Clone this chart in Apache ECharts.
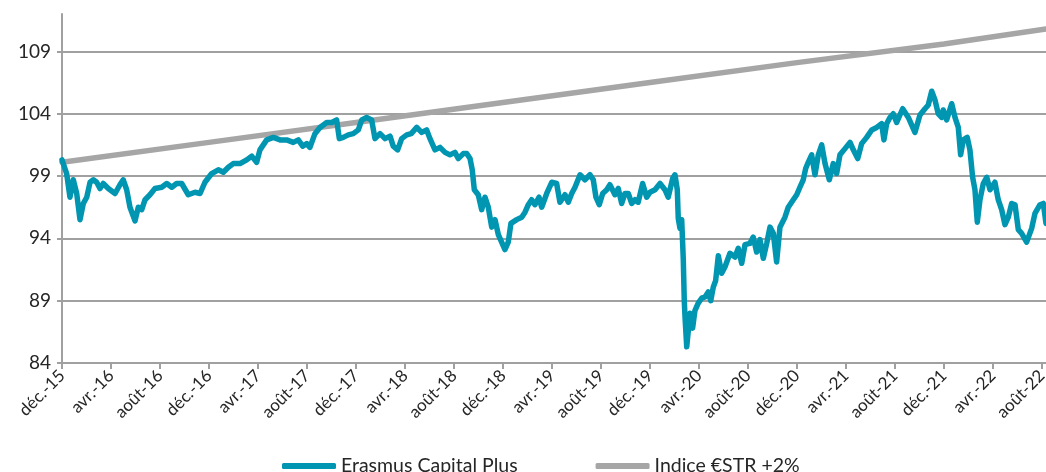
<!DOCTYPE html>
<html>
<head>
<meta charset="utf-8">
<script src="https://cdn.jsdelivr.net/npm/echarts@6/dist/echarts.min.js"></script>
<style>
  html, body { margin: 0; padding: 0; background: #fff; }
  #chart { width: 1046px; height: 472px; }
</style>
</head>
<body>
<div id="chart"></div>
<script>
// mois écoulés depuis déc.-15
const xLabels = ["déc.-15", "avr.-16", "août-16", "déc.-16", "avr.-17", "août-17", "déc.-17",
  "avr.-18", "août-18", "déc.-18", "avr.-19", "août-19", "déc.-19", "avr.-20", "août-20",
  "déc.-20", "avr.-21", "août-21", "déc.-21", "avr.-22", "août-22"];

const months = [0, 0.38, 0.65, 0.92, 1.2, 1.47, 1.74, 2.02, 2.29, 2.56, 2.83, 3.1, 3.37, 3.78,
  4.33, 4.73, 5.0, 5.28, 5.55, 5.96, 6.23, 6.51, 6.78, 7.18, 7.59, 8.14, 8.55, 8.96, 9.36, 9.77,
  10.31, 10.86, 11.27, 11.67, 12.22, 12.76, 13.17, 13.58, 13.98, 14.53, 15.08, 15.49, 15.89,
  16.16, 16.71, 17.25, 17.8, 18.34, 18.88, 19.29, 19.65, 19.98, 20.24, 20.65, 21.06, 21.61,
  22.02, 22.42, 22.64, 22.96, 23.37, 23.78, 24.19, 24.47, 24.87, 25.28, 25.55, 25.96, 26.37,
  26.78, 27.04, 27.4, 27.73, 28.14, 28.51, 28.96, 29.36, 29.77, 30.04, 30.45, 30.86, 31.27,
  31.67, 32.08, 32.35, 32.76, 33.04, 33.31, 33.49, 33.66, 33.98, 34.26, 34.53, 34.8, 35.08,
  35.35, 35.62, 35.89, 36.16, 36.43, 36.65, 37.12, 37.53, 37.8, 38.07, 38.34, 38.61, 38.94,
  39.16, 39.57, 39.98, 40.38, 40.65, 41.06, 41.33, 41.61, 41.88, 42.29, 42.69, 43.1, 43.37,
  43.59, 43.86, 44.14, 44.47, 44.73, 45.14, 45.41, 45.69, 45.96, 46.23, 46.51, 46.78, 47.04,
  47.4, 47.73, 48.0, 48.41, 48.82, 49.22, 49.49, 49.85, 50.04, 50.23, 50.31, 50.45, 50.59,
  50.72, 50.8, 50.86, 51.0, 51.13, 51.27, 51.48, 51.67, 51.94, 52.22, 52.49, 52.76, 52.96,
  53.17, 53.36, 53.58, 53.85, 54.12, 54.53, 54.94, 55.21, 55.49, 55.76, 56.16, 56.43, 56.71,
  56.98, 57.25, 57.53, 57.8, 58.07, 58.34, 58.61, 59.02, 59.29, 59.7, 59.98, 60.24, 60.51,
  60.71, 60.92, 61.2, 61.47, 61.74, 62.02, 62.29, 62.64, 62.96, 63.24, 63.51, 63.92, 64.33,
  64.6, 64.96, 65.28, 65.69, 66.1, 66.51, 66.91, 67.1, 67.32, 67.59, 67.86, 68.14, 68.63,
  69.09, 69.63, 70.04, 70.45, 70.72, 71.0, 71.27, 71.53, 71.81, 71.94, 72.22, 72.63, 72.9,
  73.17, 73.36, 73.58, 73.9, 74.12, 74.34, 74.53, 74.72, 74.94, 75.21, 75.49, 75.76, 76.16,
  76.43, 76.71, 76.98, 77.25, 77.53, 77.8, 78.07, 78.34, 78.75, 79.16, 79.43, 79.84, 80.11, 80.33];

const erasmus = [100.3, 99.2, 97.3, 98.7, 97.6, 95.5, 96.8, 97.3, 98.5, 98.7, 98.5, 98.0, 98.4, 98.0,
  97.6, 98.3, 98.7, 97.9, 96.5, 95.4, 96.5, 96.3, 97.1, 97.5, 98.0, 98.1, 98.4, 98.1, 98.4, 98.4,
  97.5, 97.7, 97.6, 98.5, 99.2, 99.5, 99.3, 99.7, 100.0, 100.0, 100.3, 100.6, 100.1,
  101.1, 101.9, 102.1, 101.9, 101.9, 101.7, 101.9, 101.4, 101.6, 101.3, 102.4, 102.9, 103.3,
  103.3, 103.5, 102.0, 102.1, 102.3, 102.4, 102.7, 103.5, 103.7, 103.5, 102.0, 102.4, 102.0,
  102.2, 101.4, 101.1, 102.0, 102.3, 102.4, 102.9, 102.5, 102.7, 102.0, 101.1, 101.3, 100.9,
  100.7, 100.9, 100.4, 100.8, 100.8, 100.4, 99.5, 97.9, 97.5, 96.3, 97.3, 96.5, 94.9,
  95.5, 94.3, 93.7, 93.1, 93.7, 95.2, 95.5, 95.7, 96.1, 96.7, 97.1, 96.7, 97.3,
  96.5, 97.6, 98.5, 98.4, 96.9, 97.5, 96.9, 97.6, 98.1, 99.1, 98.7, 99.1, 98.7,
  97.3, 96.7, 97.6, 97.9, 98.3, 97.5, 98.0, 96.8, 97.6, 97.6, 96.8, 97.1, 96.9,
  98.4, 97.3, 97.7, 97.9, 98.4, 97.9, 97.3, 98.8, 99.1, 97.9, 95.6, 94.8, 95.5,
  92.3, 89.0, 87.7, 85.3, 85.4, 88.0, 86.8, 88.2, 88.8, 89.2, 89.3, 89.7, 89.0,
  90.1, 90.6, 92.6, 91.2, 91.7, 92.8, 92.5, 93.2, 92.0, 93.5, 93.6, 94.1, 92.9,
  93.9, 92.4, 93.6, 94.9, 94.4, 92.1, 94.9, 95.7, 96.5, 97.1, 97.5, 98.1, 98.7,
  99.6, 100.1, 100.7, 99.1, 100.7, 101.5, 100.0, 98.7, 100.0, 99.2, 100.7, 101.2, 101.7,
  101.1, 100.4, 101.6, 102.1, 102.7, 102.9, 103.2, 101.9, 103.2, 103.7, 104.0, 103.3, 104.4,
  103.7, 102.5, 103.9, 104.4, 104.7, 105.8, 105.1, 104.0, 103.7, 104.3, 103.5, 104.8, 103.7,
  102.9, 100.7, 101.9, 102.1, 101.1, 98.9, 97.9, 95.3, 97.1, 98.4, 98.9, 97.9, 98.5,
  97.1, 96.3, 95.1, 95.7, 96.8, 96.7, 94.7, 94.4, 93.7, 94.8, 96.0, 96.7, 96.8, 95.2];

const indexMonths = [0, 12, 24, 36, 48, 60, 72, 80.33];
const indexValues = [100.1, 101.7, 103.3, 104.9, 106.5, 108.1, 109.6, 110.8];

const chart = echarts.init(document.getElementById("chart"));
const axisGrey = "#a0a0a0";
const textColor = "#262626";
const font = "Lato, 'Open Sans', sans-serif";

chart.setOption({
  animation: false,
  textStyle: { fontFamily: font },
  grid: { left: 62, right: 0, top: 14, bottom: 109, outerBoundsMode: "none" },
  legend: {
    left: 277,
    top: 451,
    icon: "roundRect",
    itemWidth: 54,
    itemHeight: 6,
    itemGap: 78,
    textStyle: { fontSize: 19.5, color: textColor, fontFamily: font },
    data: ["Erasmus Capital Plus", "Indice €STR +2%"]
  },
  xAxis: {
    type: "value",
    min: 0,
    max: 80.33,
    interval: 4,
    splitLine: { show: false },
    axisLine: { lineStyle: { color: axisGrey, width: 2 } },
    axisTick: { show: true, length: 6, lineStyle: { color: axisGrey, width: 2 } },
    axisLabel: {
      rotate: 45,
      margin: 10,
      fontSize: 17,
      color: textColor,
      showMaxLabel: false,
      formatter: (v) => xLabels[Math.round(v / 4)] || ""
    }
  },
  yAxis: {
    type: "value",
    min: 84,
    max: 112,
    interval: 5,
    axisLine: { show: true, lineStyle: { color: axisGrey, width: 2 } },
    axisTick: { show: true, length: 5, lineStyle: { color: axisGrey, width: 2 } },
    splitLine: { show: true, showMaxLine: false, lineStyle: { color: axisGrey, width: 2 } },
    axisLabel: { fontSize: 19, color: textColor, margin: 11, showMaxLabel: false }
  },
  series: [
    {
      name: "Erasmus Capital Plus",
      type: "line",
      symbol: "none",
      z: 3,
      color: "#0095b0",
      lineStyle: { width: 5.5, cap: "round", join: "round" },
      data: months.map((m, i) => [m, erasmus[i]])
    },
    {
      name: "Indice €STR +2%",
      type: "line",
      symbol: "none",
      z: 2,
      color: "#a6a6a6",
      lineStyle: { width: 5.5, cap: "round" },
      data: indexMonths.map((m, i) => [m, indexValues[i]])
    }
  ]
});
</script>
</body>
</html>
